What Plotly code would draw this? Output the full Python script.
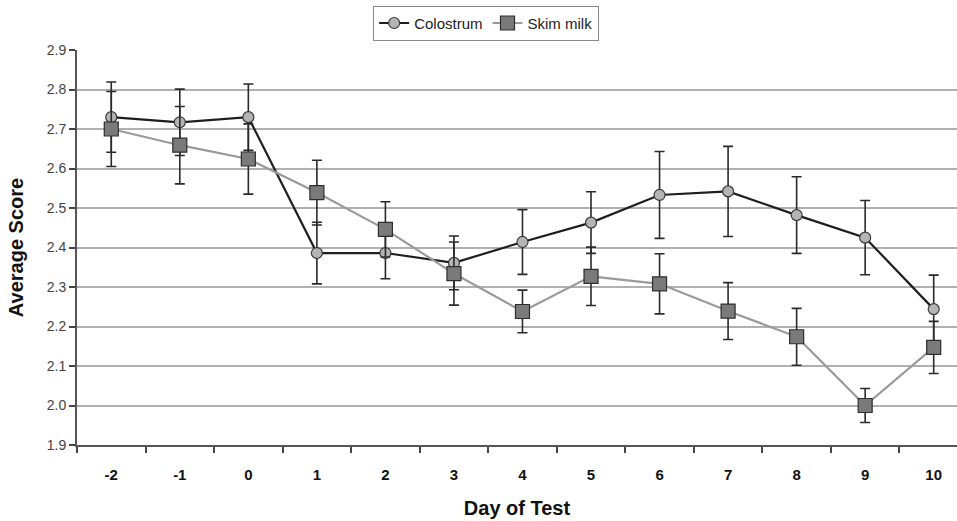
import plotly.graph_objects as go

days = ["-2", "-1", "0", "1", "2", "3", "4", "5", "6", "7", "8", "9", "10"]
colostrum = [2.730, 2.717, 2.730, 2.386, 2.386, 2.361, 2.414, 2.463, 2.533, 2.542, 2.482, 2.425, 2.244]
colostrum_err = [0.089, 0.084, 0.084, 0.078, 0.065, 0.068, 0.082, 0.078, 0.110, 0.114, 0.097, 0.094, 0.086]
skim = [2.700, 2.659, 2.624, 2.539, 2.446, 2.334, 2.238, 2.327, 2.308, 2.239, 2.174, 2.000, 2.147]
skim_err = [0.095, 0.098, 0.089, 0.082, 0.070, 0.080, 0.054, 0.074, 0.076, 0.072, 0.072, 0.043, 0.066]
y_ticks = [1.9, 2.0, 2.1, 2.2, 2.3, 2.4, 2.5, 2.6, 2.7, 2.8, 2.9]

FONT = "Liberation Sans, Arial, sans-serif"

fig = go.Figure()
fig.add_trace(go.Scatter(
    x=days, y=colostrum, name="Colostrum", mode="lines+markers",
    line=dict(color="#1e1e1e", width=2.2),
    marker=dict(symbol="circle", size=11, color="#b4b4b4", line=dict(color="#3a3a3a", width=1.2)),
    error_y=dict(type="data", array=colostrum_err, visible=True, color="#2a2a2a", thickness=1.6, width=5),
))
fig.add_trace(go.Scatter(
    x=days, y=skim, name="Skim milk", mode="lines+markers",
    line=dict(color="#9a9a9a", width=2.2),
    marker=dict(symbol="square", size=14, color="#7a7a7a", line=dict(color="#2e2e2e", width=1.2)),
    error_y=dict(type="data", array=skim_err, visible=True, color="#2a2a2a", thickness=1.6, width=5),
))

fig.update_layout(
    width=957, height=521,
    margin=dict(l=77, r=0, t=50, b=76),
    paper_bgcolor="white", plot_bgcolor="white",
    font=dict(family=FONT, color="#222"),
    showlegend=True,
    legend=dict(
        orientation="h", xref="container", yref="container",
        x=0.508, xanchor="center", y=0.989, yanchor="top",
        bordercolor="#8a8a8a", borderwidth=1, bgcolor="white",
        font=dict(size=15, family=FONT, color="#222"),
        itemwidth=30, tracegroupgap=0,
    ),
    xaxis=dict(
        type="category", categoryorder="array", categoryarray=days,
        range=[-0.5, 12.34], automargin=False,
        tickson="boundaries", ticks="outside", ticklen=6, tickwidth=1.5, tickcolor="#444",
        showline=True, linecolor="#555", linewidth=2,
        showgrid=False, zeroline=False,
        tickfont=dict(size=15, family=FONT, color="#111", weight="bold"),
        ticklabelstandoff=15,
        title=dict(text="<b>Day of Test</b>", font=dict(size=20, family=FONT, color="#111"), standoff=19),
    ),
    yaxis=dict(
        range=[1.9, 2.9], tickvals=y_ticks, ticktext=[f"{v:.1f}" for v in y_ticks],
        automargin=False,
        ticks="outside", ticklen=6, tickwidth=1.5, tickcolor="#444",
        showline=True, linecolor="#555", linewidth=2,
        showgrid=True, gridcolor="#b0b0b0", gridwidth=1.5, zeroline=False,
        tickfont=dict(size=14, family=FONT, color="#444"),
        title=dict(text="<b>Average Score</b>", font=dict(size=20, family=FONT, color="#111"), standoff=18),
    ),
)

fig.write_html(
    "out.html",
    config={"displayModeBar": False},
    post_script="document.body.style.margin='0';document.body.style.overflow='hidden';",
)
